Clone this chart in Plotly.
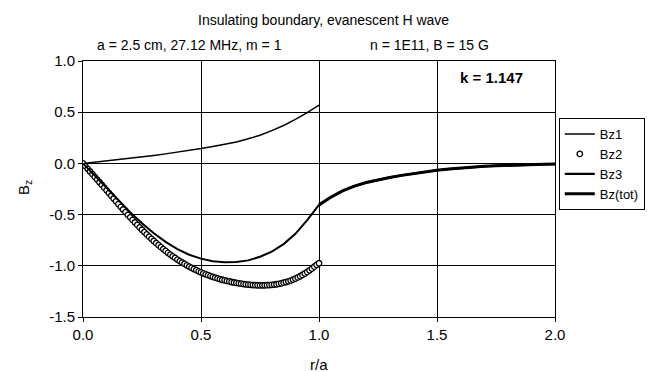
import plotly.graph_objects as go

# r/a grids
r_in_coarse = [0.00, 0.05, 0.10, 0.15, 0.20, 0.25, 0.30, 0.35, 0.40, 0.45, 0.50,
               0.55, 0.60, 0.65, 0.70, 0.75, 0.80, 0.85, 0.90, 0.95, 1.00]
r_out = [1.00, 1.05, 1.10, 1.15, 1.20, 1.25, 1.30, 1.35, 1.40, 1.45, 1.50,
         1.55, 1.60, 1.65, 1.70, 1.75, 1.80, 1.85, 1.90, 1.95, 2.00]
r_fine = [i / 100 for i in range(101)]

bz1 = [0.000, 0.012, 0.025, 0.037, 0.050, 0.064, 0.078, 0.093, 0.108, 0.126, 0.145,
       0.165, 0.185, 0.210, 0.240, 0.275, 0.320, 0.370, 0.430, 0.495, 0.570]

bz2 = [0.000, -0.027, -0.053, -0.079, -0.105, -0.132, -0.158, -0.184, -0.210, -0.237,
       -0.263, -0.290, -0.316, -0.343, -0.370, -0.397, -0.424, -0.450, -0.476, -0.502,
       -0.527, -0.552, -0.577, -0.601, -0.625, -0.648, -0.671, -0.694, -0.716, -0.737,
       -0.758, -0.779, -0.799, -0.818, -0.837, -0.855, -0.873, -0.890, -0.907, -0.923,
       -0.939, -0.954, -0.968, -0.982, -0.995, -1.008, -1.020, -1.032, -1.043, -1.054,
       -1.064, -1.074, -1.083, -1.092, -1.100, -1.108, -1.116, -1.123, -1.130, -1.136,
       -1.142, -1.148, -1.153, -1.158, -1.163, -1.167, -1.171, -1.175, -1.178, -1.181,
       -1.184, -1.186, -1.188, -1.189, -1.190, -1.191, -1.191, -1.190, -1.189, -1.188,
       -1.186, -1.183, -1.180, -1.176, -1.171, -1.165, -1.159, -1.152, -1.144, -1.135,
       -1.125, -1.114, -1.102, -1.089, -1.075, -1.060, -1.044, -1.027, -1.009, -0.990,
       -0.975]

bz3 = [-0.405, -0.330, -0.268, -0.222, -0.187, -0.160, -0.137, -0.117, -0.099, -0.082,
       -0.067, -0.055, -0.045, -0.036, -0.029, -0.023, -0.018, -0.014, -0.011, -0.009,
       -0.007]

bz_tot_in = [0.000, -0.120, -0.238, -0.360, -0.477, -0.584, -0.682, -0.766, -0.838, -0.892,
             -0.930, -0.955, -0.966, -0.963, -0.947, -0.912, -0.862, -0.788, -0.688, -0.555,
             -0.405]

x_ticks = [0.0, 0.5, 1.0, 1.5, 2.0]
y_ticks = [1.0, 0.5, 0.0, -0.5, -1.0, -1.5]

FONT = "Liberation Sans, Arial, sans-serif"

fig = go.Figure()
fig.add_trace(go.Scatter(x=r_in_coarse, y=bz1, mode="lines", name="Bz1",
                         line=dict(color="black", width=1.5)))
fig.add_trace(go.Scatter(x=r_fine, y=bz2, mode="markers", name="Bz2",
                         marker=dict(symbol="circle", size=5.5, color="white",
                                     line=dict(color="black", width=1.3))))
fig.add_trace(go.Scatter(x=r_in_coarse, y=bz_tot_in, mode="lines", name="Bz(tot)",
                         legendgroup="tot", showlegend=False,
                         line=dict(color="black", width=2)))
fig.add_trace(go.Scatter(x=r_out, y=bz3, mode="lines", name="Bz3",
                         line=dict(color="black", width=2.2)))
fig.add_trace(go.Scatter(x=r_out, y=bz3, mode="lines", name="Bz(tot)",
                         legendgroup="tot", line=dict(color="black", width=3)))

axis_common = dict(showline=True, linecolor="black", linewidth=1, mirror=True,
                   showgrid=True, gridcolor="black", gridwidth=1, zeroline=False,
                   ticks="outside", ticklen=4, tickcolor="black",
                   tickfont=dict(family=FONT, size=15, color="black"))

fig.update_layout(
    width=657, height=372,
    margin=dict(l=83, r=95, t=61, b=55),
    paper_bgcolor="white", plot_bgcolor="white",
    showlegend=True,
    legend=dict(x=1.008, y=0.777, xanchor="left", yanchor="top",
                bordercolor="black", borderwidth=1, bgcolor="white",
                font=dict(family=FONT, size=13, color="black"),
                itemwidth=30, tracegroupgap=0),
    xaxis=dict(range=[0, 2], tickvals=x_ticks, ticktext=[f"{v:.1f}" for v in x_ticks],
               **axis_common),
    yaxis=dict(range=[-1.5, 1.0], tickvals=y_ticks, ticktext=[f"{v:.1f}" for v in y_ticks],
               **axis_common),
)

ann_font = dict(family=FONT, size=14, color="black")
fig.add_annotation(text="Insulating boundary, evanescent H wave", x=0.51, y=1.16,
                   xref="paper", yref="paper", showarrow=False, font=ann_font,
                   xanchor="center", yanchor="middle")
fig.add_annotation(text="a = 2.5 cm, 27.12 MHz, m = 1", x=0.225, y=1.0625,
                   xref="paper", yref="paper", showarrow=False, font=ann_font,
                   xanchor="center", yanchor="middle")
fig.add_annotation(text="n = 1E11, B = 15 G", x=0.735, y=1.0625,
                   xref="paper", yref="paper", showarrow=False, font=ann_font,
                   xanchor="center", yanchor="middle")
fig.add_annotation(text="<b>k = 1.147</b>", x=0.866, y=0.934,
                   xref="paper", yref="paper", showarrow=False,
                   font=dict(family=FONT, size=15, color="black"),
                   xanchor="center", yanchor="middle")
fig.add_annotation(text="B<sub>z</sub>", x=-0.123, y=0.508, textangle=-90,
                   xref="paper", yref="paper", showarrow=False,
                   font=dict(family=FONT, size=15, color="black"),
                   xanchor="center", yanchor="middle")
fig.add_annotation(text="r/a", x=0.499, y=-0.184,
                   xref="paper", yref="paper", showarrow=False,
                   font=dict(family=FONT, size=15, color="black"),
                   xanchor="center", yanchor="middle")

fig.write_html("out.html")
